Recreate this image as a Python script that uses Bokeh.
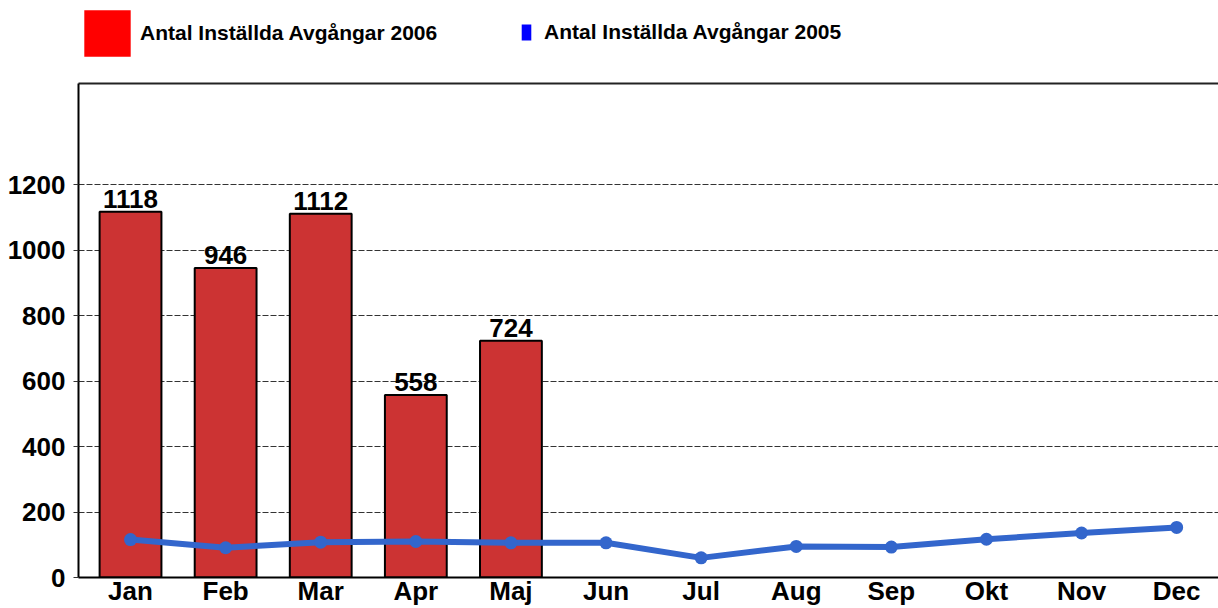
from bokeh.plotting import figure
from bokeh.layouts import column
from bokeh.models import (Legend, LegendItem, LinearAxis, FixedTicker, Range1d,
                          ColumnDataSource, LabelSet)
from bokeh.core.properties import value
from bokeh.embed import file_html
from bokeh.resources import INLINE

months = ["Jan", "Feb", "Mar", "Apr", "Maj", "Jun", "Jul", "Aug", "Sep", "Okt", "Nov", "Dec"]
values_2006 = [1118, 946, 1112, 558, 724]
values_2005 = [116, 91, 108, 110, 106, 106, 60, 95, 93, 117, 136, 153]
y_ticks = [0, 200, 400, 600, 800, 1000, 1200]
label_2006 = "Antal Inställda Avgångar 2006"
label_2005 = "Antal Inställda Avgångar 2005"

FONT = "Liberation Sans"
HEADER_H = 79
FRAME_LEFT = 78
NAN = float("nan")

x_all = list(range(len(months)))
src06 = ColumnDataSource(dict(x=x_all[:len(values_2006)], top=values_2006,
                              txt=[str(v) for v in values_2006]))
src05 = ColumnDataSource(dict(x=x_all, y=values_2005))

# ---------- header strip holding the legend ----------
hdr = figure(width=1218, height=HEADER_H, output_backend="svg", toolbar_location=None,
             x_range=Range1d(0, 1), y_range=Range1d(0, 1),
             x_axis_type=None, y_axis_type=None, min_border=0)
hdr.outline_line_color = None
hdr.xgrid.grid_line_color = None
hdr.ygrid.grid_line_color = None
# legend swatch proxies (no visible data)
sw06 = hdr.quad(left=[NAN], right=[NAN], top=[NAN], bottom=[NAN],
                fill_color="#FF0000", line_color=None)
sw05 = hdr.quad(left=[NAN], right=[NAN], top=[NAN], bottom=[NAN],
                fill_color="#0000FF", line_color=None)

common = dict(padding=0, margin=0, border_line_color=None, background_fill_alpha=0,
              label_text_font=FONT, label_text_font_size="21px",
              label_text_font_style="bold", label_text_color="black")
leg1 = Legend(items=[LegendItem(label=label_2006, renderers=[sw06])],
              location=(0, 17), glyph_width=58, glyph_height=58,
              label_standoff=4, **common)
leg2 = Legend(items=[LegendItem(label=label_2005, renderers=[sw05])],
              location=(442, 35), glyph_width=12, glyph_height=20,
              label_standoff=12, **common)
hdr.add_layout(leg1)
hdr.add_layout(leg2)

# ---------- main chart ----------
p = figure(width=1218, height=608 - HEADER_H, output_backend="svg", toolbar_location=None,
           x_range=Range1d(-0.547, 11.44), y_range=Range1d(0, 1510),
           min_border_left=FRAME_LEFT, min_border_right=0, min_border_top=4, min_border_bottom=30)
p.outline_line_color = None

bars = p.vbar(x="x", top="top", width=0.65, source=src06,
              fill_color="#CC3333", line_color="black", line_width=2)
p.add_layout(LabelSet(x="x", y="top", text="txt", source=src06, y_offset=4,
                      text_align="center", text_baseline="alphabetic",
                      text_font=value(FONT), text_font_size=value("26px"),
                      text_font_style=value("bold"), text_color=value("black")))

p.line("x", "y", source=src05, line_color="#3366CC", line_width=6)
p.scatter("x", "y", source=src05, size=13, fill_color="#3366CC", line_color=None)

p.xaxis.ticker = FixedTicker(ticks=x_all)
p.xaxis.major_label_overrides = {i: m for i, m in enumerate(months)}
p.yaxis.ticker = FixedTicker(ticks=y_ticks)
for ax in (p.xaxis[0], p.yaxis[0]):
    ax.axis_line_color = "black"
    ax.axis_line_width = 2
    ax.major_label_text_font = FONT
    ax.major_label_text_font_size = "26px"
    ax.major_label_text_font_style = "bold"
    ax.major_label_text_color = "black"
    ax.minor_tick_line_color = None
p.xaxis.major_tick_line_color = None
p.xaxis.major_tick_out = 0
p.xaxis.major_tick_in = 0
p.xaxis.major_label_standoff = -2
p.yaxis.major_tick_out = 5
p.yaxis.major_tick_in = 0
p.yaxis.major_tick_line_color = "#333333"
p.yaxis.major_label_standoff = 8

top_axis = LinearAxis(ticker=FixedTicker(ticks=[]), axis_line_color="#222222", axis_line_width=2,
                      major_tick_line_color=None, minor_tick_line_color=None,
                      major_label_standoff=0)
p.add_layout(top_axis, "above")

p.xgrid.grid_line_color = None
p.ygrid.ticker = FixedTicker(ticks=y_ticks[1:])
p.ygrid.grid_line_color = "#333333"
p.ygrid.grid_line_dash = "6 2"
p.ygrid.grid_line_width = 1

layout = column(hdr, p, spacing=0)
open("out.html", "w").write(file_html(layout, INLINE))
